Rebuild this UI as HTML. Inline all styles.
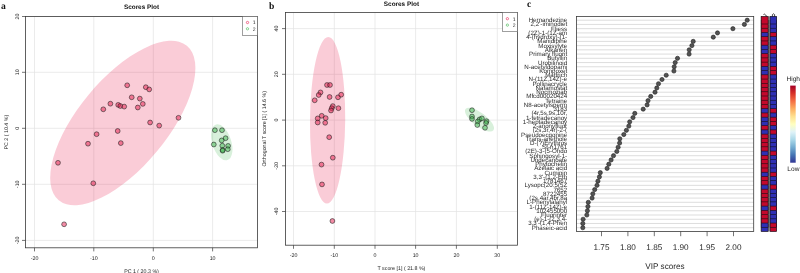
<!DOCTYPE html>
<html><head><meta charset="utf-8"><title>Figure</title>
<style>
html,body{margin:0;padding:0;background:#fff;width:800px;height:273px;overflow:hidden}
svg{display:block;transform:translateZ(0);will-change:transform}
text{font-family:"Liberation Sans",sans-serif;text-rendering:geometricPrecision}
text.serif{font-family:"Liberation Serif",serif}
</style></head><body>
<svg width="800" height="273" viewBox="0 0 800 273">
<rect width="800" height="273" fill="#fff"/>
<line x1="34.5" y1="16.5" x2="34.5" y2="247.8" stroke="#e3e3e3" stroke-width="0.7"/>
<line x1="93.8" y1="16.5" x2="93.8" y2="247.8" stroke="#e3e3e3" stroke-width="0.7"/>
<line x1="153.3" y1="16.5" x2="153.3" y2="247.8" stroke="#e3e3e3" stroke-width="0.7"/>
<line x1="212.6" y1="16.5" x2="212.6" y2="247.8" stroke="#e3e3e3" stroke-width="0.7"/>
<line x1="25.5" y1="16.5" x2="257.5" y2="16.5" stroke="#e3e3e3" stroke-width="0.7"/>
<line x1="25.5" y1="72.3" x2="257.5" y2="72.3" stroke="#e3e3e3" stroke-width="0.7"/>
<line x1="25.5" y1="128.3" x2="257.5" y2="128.3" stroke="#e3e3e3" stroke-width="0.7"/>
<line x1="25.5" y1="184.3" x2="257.5" y2="184.3" stroke="#e3e3e3" stroke-width="0.7"/>
<line x1="25.5" y1="240.4" x2="257.5" y2="240.4" stroke="#e3e3e3" stroke-width="0.7"/>
<ellipse cx="122.8" cy="123" rx="100.3" ry="44.4" transform="rotate(-50.29 122.8 123)" fill="#e6194B" fill-opacity="0.22"/>
<ellipse cx="221.75" cy="142.3" rx="18.7" ry="9.5" transform="rotate(72.1 221.75 142.3)" fill="#3cb44b" fill-opacity="0.2"/>
<circle cx="127.2" cy="85.3" r="2.4" fill="#e6194B" fill-opacity="0.5" stroke="#1a1a1a" stroke-opacity="0.85" stroke-width="0.65"/>
<circle cx="145.8" cy="87.2" r="2.4" fill="#e6194B" fill-opacity="0.5" stroke="#1a1a1a" stroke-opacity="0.85" stroke-width="0.65"/>
<circle cx="149.2" cy="89.4" r="2.4" fill="#e6194B" fill-opacity="0.5" stroke="#1a1a1a" stroke-opacity="0.85" stroke-width="0.65"/>
<circle cx="131.7" cy="97.3" r="2.4" fill="#e6194B" fill-opacity="0.5" stroke="#1a1a1a" stroke-opacity="0.85" stroke-width="0.65"/>
<circle cx="139.8" cy="98.6" r="2.4" fill="#e6194B" fill-opacity="0.5" stroke="#1a1a1a" stroke-opacity="0.85" stroke-width="0.65"/>
<circle cx="142.8" cy="103.9" r="2.4" fill="#e6194B" fill-opacity="0.5" stroke="#1a1a1a" stroke-opacity="0.85" stroke-width="0.65"/>
<circle cx="110.4" cy="103.7" r="2.4" fill="#e6194B" fill-opacity="0.5" stroke="#1a1a1a" stroke-opacity="0.85" stroke-width="0.65"/>
<circle cx="118.2" cy="104.9" r="2.4" fill="#e6194B" fill-opacity="0.5" stroke="#1a1a1a" stroke-opacity="0.85" stroke-width="0.65"/>
<circle cx="120.3" cy="106" r="2.4" fill="#e6194B" fill-opacity="0.5" stroke="#1a1a1a" stroke-opacity="0.85" stroke-width="0.65"/>
<circle cx="124.2" cy="106.6" r="2.4" fill="#e6194B" fill-opacity="0.5" stroke="#1a1a1a" stroke-opacity="0.85" stroke-width="0.65"/>
<circle cx="137.8" cy="107.5" r="2.4" fill="#e6194B" fill-opacity="0.5" stroke="#1a1a1a" stroke-opacity="0.85" stroke-width="0.65"/>
<circle cx="103.3" cy="109.3" r="2.4" fill="#e6194B" fill-opacity="0.5" stroke="#1a1a1a" stroke-opacity="0.85" stroke-width="0.65"/>
<circle cx="178.5" cy="117.8" r="2.4" fill="#e6194B" fill-opacity="0.5" stroke="#1a1a1a" stroke-opacity="0.85" stroke-width="0.65"/>
<circle cx="150.1" cy="122.5" r="2.4" fill="#e6194B" fill-opacity="0.5" stroke="#1a1a1a" stroke-opacity="0.85" stroke-width="0.65"/>
<circle cx="159.2" cy="125.6" r="2.4" fill="#e6194B" fill-opacity="0.5" stroke="#1a1a1a" stroke-opacity="0.85" stroke-width="0.65"/>
<circle cx="117.7" cy="131" r="2.4" fill="#e6194B" fill-opacity="0.5" stroke="#1a1a1a" stroke-opacity="0.85" stroke-width="0.65"/>
<circle cx="96.6" cy="134.2" r="2.4" fill="#e6194B" fill-opacity="0.5" stroke="#1a1a1a" stroke-opacity="0.85" stroke-width="0.65"/>
<circle cx="120.8" cy="143.1" r="2.4" fill="#e6194B" fill-opacity="0.5" stroke="#1a1a1a" stroke-opacity="0.85" stroke-width="0.65"/>
<circle cx="88" cy="143.7" r="2.4" fill="#e6194B" fill-opacity="0.5" stroke="#1a1a1a" stroke-opacity="0.85" stroke-width="0.65"/>
<circle cx="58" cy="162.8" r="2.4" fill="#e6194B" fill-opacity="0.5" stroke="#1a1a1a" stroke-opacity="0.85" stroke-width="0.65"/>
<circle cx="93.3" cy="183.3" r="2.4" fill="#e6194B" fill-opacity="0.5" stroke="#1a1a1a" stroke-opacity="0.85" stroke-width="0.65"/>
<circle cx="64.1" cy="224.3" r="2.4" fill="#e6194B" fill-opacity="0.5" stroke="#1a1a1a" stroke-opacity="0.85" stroke-width="0.65"/>
<circle cx="214.9" cy="130.2" r="2.4" fill="#3cb44b" fill-opacity="0.5" stroke="#1a1a1a" stroke-opacity="0.85" stroke-width="0.65"/>
<circle cx="222" cy="130.2" r="2.4" fill="#3cb44b" fill-opacity="0.5" stroke="#1a1a1a" stroke-opacity="0.85" stroke-width="0.65"/>
<circle cx="225.6" cy="138.2" r="2.4" fill="#3cb44b" fill-opacity="0.5" stroke="#1a1a1a" stroke-opacity="0.85" stroke-width="0.65"/>
<circle cx="221.7" cy="140.4" r="2.4" fill="#3cb44b" fill-opacity="0.5" stroke="#1a1a1a" stroke-opacity="0.85" stroke-width="0.65"/>
<circle cx="213.8" cy="144.5" r="2.4" fill="#3cb44b" fill-opacity="0.5" stroke="#1a1a1a" stroke-opacity="0.85" stroke-width="0.65"/>
<circle cx="222.3" cy="145.7" r="2.4" fill="#3cb44b" fill-opacity="0.5" stroke="#1a1a1a" stroke-opacity="0.85" stroke-width="0.65"/>
<circle cx="228.1" cy="145.9" r="2.4" fill="#3cb44b" fill-opacity="0.5" stroke="#1a1a1a" stroke-opacity="0.85" stroke-width="0.65"/>
<circle cx="227.8" cy="149.2" r="2.4" fill="#3cb44b" fill-opacity="0.5" stroke="#1a1a1a" stroke-opacity="0.85" stroke-width="0.65"/>
<circle cx="222.7" cy="150" r="2.4" fill="#3cb44b" fill-opacity="0.5" stroke="#1a1a1a" stroke-opacity="0.85" stroke-width="0.65"/>
<circle cx="222.6" cy="150.7" r="2.4" fill="#3cb44b" fill-opacity="0.5" stroke="#1a1a1a" stroke-opacity="0.85" stroke-width="0.65"/>
<rect x="25.5" y="16.5" width="232" height="231.3" fill="none" stroke="#3a3a3a" stroke-width="0.8"/>
<line x1="34.5" y1="247.8" x2="34.5" y2="251.4" stroke="#3a3a3a" stroke-width="0.7"/>
<text x="34.5" y="260.4" font-size="5.3" text-anchor="middle" fill="#222">-20</text>
<line x1="93.8" y1="247.8" x2="93.8" y2="251.4" stroke="#3a3a3a" stroke-width="0.7"/>
<text x="93.8" y="260.4" font-size="5.3" text-anchor="middle" fill="#222">-10</text>
<line x1="153.3" y1="247.8" x2="153.3" y2="251.4" stroke="#3a3a3a" stroke-width="0.7"/>
<text x="153.3" y="260.4" font-size="5.3" text-anchor="middle" fill="#222">0</text>
<line x1="212.6" y1="247.8" x2="212.6" y2="251.4" stroke="#3a3a3a" stroke-width="0.7"/>
<text x="212.6" y="260.4" font-size="5.3" text-anchor="middle" fill="#222">10</text>
<line x1="22" y1="16.5" x2="25.5" y2="16.5" stroke="#3a3a3a" stroke-width="0.7"/>
<text transform="translate(18.6 16.5) rotate(-90)" font-size="5.3" text-anchor="middle" fill="#222">20</text>
<line x1="22" y1="72.3" x2="25.5" y2="72.3" stroke="#3a3a3a" stroke-width="0.7"/>
<text transform="translate(18.6 72.3) rotate(-90)" font-size="5.3" text-anchor="middle" fill="#222">10</text>
<line x1="22" y1="128.3" x2="25.5" y2="128.3" stroke="#3a3a3a" stroke-width="0.7"/>
<text transform="translate(18.6 128.3) rotate(-90)" font-size="5.3" text-anchor="middle" fill="#222">0</text>
<line x1="22" y1="184.3" x2="25.5" y2="184.3" stroke="#3a3a3a" stroke-width="0.7"/>
<text transform="translate(18.6 184.3) rotate(-90)" font-size="5.3" text-anchor="middle" fill="#222">-10</text>
<line x1="22" y1="240.4" x2="25.5" y2="240.4" stroke="#3a3a3a" stroke-width="0.7"/>
<text transform="translate(18.6 240.4) rotate(-90)" font-size="5.3" text-anchor="middle" fill="#222">-20</text>
<rect x="242.5" y="16.5" width="15" height="18.8" fill="#fff" stroke="#606060" stroke-width="0.6"/>
<circle cx="247.5" cy="22.5" r="1.15" fill="none" stroke="#e6194B" stroke-width="0.6"/>
<circle cx="247.5" cy="28.8" r="1.15" fill="none" stroke="#3cb44b" stroke-width="0.6"/>
<text x="252.8" y="24.4" font-size="5.1" fill="#222">1</text>
<text x="252.8" y="30.7" font-size="5.1" fill="#222">2</text>
<text x="141.5" y="8.9" font-size="6.4" font-weight="bold" text-anchor="middle" fill="#111">Scores Plot</text>
<text x="141.5" y="272.9" font-size="5.3" text-anchor="middle" fill="#222">PC 1 ( 20.3 %)</text>
<text transform="translate(8.1 132.15) rotate(-90)" font-size="5.3" text-anchor="middle" fill="#222">PC 2 ( 10.4 %)</text>
<text x="1" y="9" class="serif" font-size="9.6" font-weight="bold" fill="#111">a</text>
<line x1="293.5" y1="12.4" x2="293.5" y2="245.2" stroke="#e3e3e3" stroke-width="0.7"/>
<line x1="334.3" y1="12.4" x2="334.3" y2="245.2" stroke="#e3e3e3" stroke-width="0.7"/>
<line x1="375" y1="12.4" x2="375" y2="245.2" stroke="#e3e3e3" stroke-width="0.7"/>
<line x1="415.6" y1="12.4" x2="415.6" y2="245.2" stroke="#e3e3e3" stroke-width="0.7"/>
<line x1="456.4" y1="12.4" x2="456.4" y2="245.2" stroke="#e3e3e3" stroke-width="0.7"/>
<line x1="497.3" y1="12.4" x2="497.3" y2="245.2" stroke="#e3e3e3" stroke-width="0.7"/>
<line x1="285.5" y1="28.6" x2="517.4" y2="28.6" stroke="#e3e3e3" stroke-width="0.7"/>
<line x1="285.5" y1="74.3" x2="517.4" y2="74.3" stroke="#e3e3e3" stroke-width="0.7"/>
<line x1="285.5" y1="120.1" x2="517.4" y2="120.1" stroke="#e3e3e3" stroke-width="0.7"/>
<line x1="285.5" y1="165.8" x2="517.4" y2="165.8" stroke="#e3e3e3" stroke-width="0.7"/>
<line x1="285.5" y1="211.5" x2="517.4" y2="211.5" stroke="#e3e3e3" stroke-width="0.7"/>
<ellipse cx="327.6" cy="120.3" rx="17.6" ry="83.3" transform="rotate(0.5 327.6 120.3)" fill="#e6194B" fill-opacity="0.22"/>
<ellipse cx="479.5" cy="119.6" rx="17.5" ry="6.8" transform="rotate(37.3 479.5 119.6)" fill="#3cb44b" fill-opacity="0.2"/>
<circle cx="327" cy="85" r="2.4" fill="#e6194B" fill-opacity="0.5" stroke="#1a1a1a" stroke-opacity="0.85" stroke-width="0.65"/>
<circle cx="330" cy="85" r="2.4" fill="#e6194B" fill-opacity="0.5" stroke="#1a1a1a" stroke-opacity="0.85" stroke-width="0.65"/>
<circle cx="320.5" cy="92.4" r="2.4" fill="#e6194B" fill-opacity="0.5" stroke="#1a1a1a" stroke-opacity="0.85" stroke-width="0.65"/>
<circle cx="318.7" cy="95" r="2.4" fill="#e6194B" fill-opacity="0.5" stroke="#1a1a1a" stroke-opacity="0.85" stroke-width="0.65"/>
<circle cx="314.7" cy="100.3" r="2.4" fill="#e6194B" fill-opacity="0.5" stroke="#1a1a1a" stroke-opacity="0.85" stroke-width="0.65"/>
<circle cx="329.6" cy="97" r="2.4" fill="#e6194B" fill-opacity="0.5" stroke="#1a1a1a" stroke-opacity="0.85" stroke-width="0.65"/>
<circle cx="338" cy="97.3" r="2.4" fill="#e6194B" fill-opacity="0.5" stroke="#1a1a1a" stroke-opacity="0.85" stroke-width="0.65"/>
<circle cx="341.2" cy="94.7" r="2.4" fill="#e6194B" fill-opacity="0.5" stroke="#1a1a1a" stroke-opacity="0.85" stroke-width="0.65"/>
<circle cx="332.8" cy="106.1" r="2.4" fill="#e6194B" fill-opacity="0.5" stroke="#1a1a1a" stroke-opacity="0.85" stroke-width="0.65"/>
<circle cx="331.7" cy="108.2" r="2.4" fill="#e6194B" fill-opacity="0.5" stroke="#1a1a1a" stroke-opacity="0.85" stroke-width="0.65"/>
<circle cx="331" cy="110.5" r="2.4" fill="#e6194B" fill-opacity="0.5" stroke="#1a1a1a" stroke-opacity="0.85" stroke-width="0.65"/>
<circle cx="338.4" cy="108.2" r="2.4" fill="#e6194B" fill-opacity="0.5" stroke="#1a1a1a" stroke-opacity="0.85" stroke-width="0.65"/>
<circle cx="321.7" cy="115.8" r="2.4" fill="#e6194B" fill-opacity="0.5" stroke="#1a1a1a" stroke-opacity="0.85" stroke-width="0.65"/>
<circle cx="317.7" cy="118.4" r="2.4" fill="#e6194B" fill-opacity="0.5" stroke="#1a1a1a" stroke-opacity="0.85" stroke-width="0.65"/>
<circle cx="325.7" cy="118.1" r="2.4" fill="#e6194B" fill-opacity="0.5" stroke="#1a1a1a" stroke-opacity="0.85" stroke-width="0.65"/>
<circle cx="317.7" cy="122.5" r="2.4" fill="#e6194B" fill-opacity="0.5" stroke="#1a1a1a" stroke-opacity="0.85" stroke-width="0.65"/>
<circle cx="325.2" cy="122.8" r="2.4" fill="#e6194B" fill-opacity="0.5" stroke="#1a1a1a" stroke-opacity="0.85" stroke-width="0.65"/>
<circle cx="329.2" cy="137.2" r="2.4" fill="#e6194B" fill-opacity="0.5" stroke="#1a1a1a" stroke-opacity="0.85" stroke-width="0.65"/>
<circle cx="332.8" cy="157.7" r="2.4" fill="#e6194B" fill-opacity="0.5" stroke="#1a1a1a" stroke-opacity="0.85" stroke-width="0.65"/>
<circle cx="321.5" cy="164.6" r="2.4" fill="#e6194B" fill-opacity="0.5" stroke="#1a1a1a" stroke-opacity="0.85" stroke-width="0.65"/>
<circle cx="322" cy="184.4" r="2.4" fill="#e6194B" fill-opacity="0.5" stroke="#1a1a1a" stroke-opacity="0.85" stroke-width="0.65"/>
<circle cx="332.4" cy="221" r="2.4" fill="#e6194B" fill-opacity="0.5" stroke="#1a1a1a" stroke-opacity="0.85" stroke-width="0.65"/>
<circle cx="472" cy="110.2" r="2.4" fill="#3cb44b" fill-opacity="0.5" stroke="#1a1a1a" stroke-opacity="0.85" stroke-width="0.65"/>
<circle cx="472" cy="116.5" r="2.4" fill="#3cb44b" fill-opacity="0.5" stroke="#1a1a1a" stroke-opacity="0.85" stroke-width="0.65"/>
<circle cx="472" cy="118.9" r="2.4" fill="#3cb44b" fill-opacity="0.5" stroke="#1a1a1a" stroke-opacity="0.85" stroke-width="0.65"/>
<circle cx="479.6" cy="119.4" r="2.4" fill="#3cb44b" fill-opacity="0.5" stroke="#1a1a1a" stroke-opacity="0.85" stroke-width="0.65"/>
<circle cx="481.9" cy="118.4" r="2.4" fill="#3cb44b" fill-opacity="0.5" stroke="#1a1a1a" stroke-opacity="0.85" stroke-width="0.65"/>
<circle cx="477.8" cy="121.4" r="2.4" fill="#3cb44b" fill-opacity="0.5" stroke="#1a1a1a" stroke-opacity="0.85" stroke-width="0.65"/>
<circle cx="486.5" cy="121.2" r="2.4" fill="#3cb44b" fill-opacity="0.5" stroke="#1a1a1a" stroke-opacity="0.85" stroke-width="0.65"/>
<circle cx="486" cy="123" r="2.4" fill="#3cb44b" fill-opacity="0.5" stroke="#1a1a1a" stroke-opacity="0.85" stroke-width="0.65"/>
<circle cx="477.3" cy="125" r="2.4" fill="#3cb44b" fill-opacity="0.5" stroke="#1a1a1a" stroke-opacity="0.85" stroke-width="0.65"/>
<circle cx="485" cy="127.8" r="2.4" fill="#3cb44b" fill-opacity="0.5" stroke="#1a1a1a" stroke-opacity="0.85" stroke-width="0.65"/>
<rect x="285.5" y="12.4" width="231.9" height="232.8" fill="none" stroke="#3a3a3a" stroke-width="0.8"/>
<line x1="293.5" y1="245.2" x2="293.5" y2="248.8" stroke="#3a3a3a" stroke-width="0.7"/>
<text x="293.5" y="257" font-size="5.3" text-anchor="middle" fill="#222">-20</text>
<line x1="334.3" y1="245.2" x2="334.3" y2="248.8" stroke="#3a3a3a" stroke-width="0.7"/>
<text x="334.3" y="257" font-size="5.3" text-anchor="middle" fill="#222">-10</text>
<line x1="375" y1="245.2" x2="375" y2="248.8" stroke="#3a3a3a" stroke-width="0.7"/>
<text x="375" y="257" font-size="5.3" text-anchor="middle" fill="#222">0</text>
<line x1="415.6" y1="245.2" x2="415.6" y2="248.8" stroke="#3a3a3a" stroke-width="0.7"/>
<text x="415.6" y="257" font-size="5.3" text-anchor="middle" fill="#222">10</text>
<line x1="456.4" y1="245.2" x2="456.4" y2="248.8" stroke="#3a3a3a" stroke-width="0.7"/>
<text x="456.4" y="257" font-size="5.3" text-anchor="middle" fill="#222">20</text>
<line x1="497.3" y1="245.2" x2="497.3" y2="248.8" stroke="#3a3a3a" stroke-width="0.7"/>
<text x="497.3" y="257" font-size="5.3" text-anchor="middle" fill="#222">30</text>
<line x1="282" y1="28.6" x2="285.5" y2="28.6" stroke="#3a3a3a" stroke-width="0.7"/>
<text transform="translate(277.8 28.6) rotate(-90)" font-size="5.3" text-anchor="middle" fill="#222">40</text>
<line x1="282" y1="74.3" x2="285.5" y2="74.3" stroke="#3a3a3a" stroke-width="0.7"/>
<text transform="translate(277.8 74.3) rotate(-90)" font-size="5.3" text-anchor="middle" fill="#222">20</text>
<line x1="282" y1="120.1" x2="285.5" y2="120.1" stroke="#3a3a3a" stroke-width="0.7"/>
<text transform="translate(277.8 120.1) rotate(-90)" font-size="5.3" text-anchor="middle" fill="#222">0</text>
<line x1="282" y1="165.8" x2="285.5" y2="165.8" stroke="#3a3a3a" stroke-width="0.7"/>
<text transform="translate(277.8 165.8) rotate(-90)" font-size="5.3" text-anchor="middle" fill="#222">-20</text>
<line x1="282" y1="211.5" x2="285.5" y2="211.5" stroke="#3a3a3a" stroke-width="0.7"/>
<text transform="translate(277.8 211.5) rotate(-90)" font-size="5.3" text-anchor="middle" fill="#222">-40</text>
<rect x="502.4" y="12.4" width="15" height="19.2" fill="#fff" stroke="#606060" stroke-width="0.6"/>
<circle cx="507.4" cy="18.7" r="1.15" fill="none" stroke="#e6194B" stroke-width="0.6"/>
<circle cx="507.4" cy="25.1" r="1.15" fill="none" stroke="#3cb44b" stroke-width="0.6"/>
<text x="512.7" y="20.6" font-size="5.1" fill="#222">1</text>
<text x="512.7" y="27" font-size="5.1" fill="#222">2</text>
<text x="401.45" y="5.8" font-size="6.4" font-weight="bold" text-anchor="middle" fill="#111">Scores Plot</text>
<text x="401.45" y="270.3" font-size="5.3" text-anchor="middle" fill="#222">T score [1] ( 21.8 %)</text>
<text transform="translate(266.3 128.8) rotate(-90)" font-size="5.3" text-anchor="middle" fill="#222">Orthogonal T score [1] ( 14.6 %)</text>
<text x="268.9" y="9.2" class="serif" font-size="9.6" font-weight="bold" fill="#111">b</text>
<line x1="576.4" y1="20.2" x2="753.7" y2="20.2" stroke="#cfcfcf" stroke-width="0.7"/>
<line x1="576.4" y1="24.43" x2="753.7" y2="24.43" stroke="#cfcfcf" stroke-width="0.7"/>
<line x1="576.4" y1="28.67" x2="753.7" y2="28.67" stroke="#cfcfcf" stroke-width="0.7"/>
<line x1="576.4" y1="32.91" x2="753.7" y2="32.91" stroke="#cfcfcf" stroke-width="0.7"/>
<line x1="576.4" y1="37.14" x2="753.7" y2="37.14" stroke="#cfcfcf" stroke-width="0.7"/>
<line x1="576.4" y1="41.38" x2="753.7" y2="41.38" stroke="#cfcfcf" stroke-width="0.7"/>
<line x1="576.4" y1="45.61" x2="753.7" y2="45.61" stroke="#cfcfcf" stroke-width="0.7"/>
<line x1="576.4" y1="49.84" x2="753.7" y2="49.84" stroke="#cfcfcf" stroke-width="0.7"/>
<line x1="576.4" y1="54.08" x2="753.7" y2="54.08" stroke="#cfcfcf" stroke-width="0.7"/>
<line x1="576.4" y1="58.31" x2="753.7" y2="58.31" stroke="#cfcfcf" stroke-width="0.7"/>
<line x1="576.4" y1="62.55" x2="753.7" y2="62.55" stroke="#cfcfcf" stroke-width="0.7"/>
<line x1="576.4" y1="66.78" x2="753.7" y2="66.78" stroke="#cfcfcf" stroke-width="0.7"/>
<line x1="576.4" y1="71.02" x2="753.7" y2="71.02" stroke="#cfcfcf" stroke-width="0.7"/>
<line x1="576.4" y1="75.26" x2="753.7" y2="75.26" stroke="#cfcfcf" stroke-width="0.7"/>
<line x1="576.4" y1="79.49" x2="753.7" y2="79.49" stroke="#cfcfcf" stroke-width="0.7"/>
<line x1="576.4" y1="83.73" x2="753.7" y2="83.73" stroke="#cfcfcf" stroke-width="0.7"/>
<line x1="576.4" y1="87.96" x2="753.7" y2="87.96" stroke="#cfcfcf" stroke-width="0.7"/>
<line x1="576.4" y1="92.2" x2="753.7" y2="92.2" stroke="#cfcfcf" stroke-width="0.7"/>
<line x1="576.4" y1="96.43" x2="753.7" y2="96.43" stroke="#cfcfcf" stroke-width="0.7"/>
<line x1="576.4" y1="100.67" x2="753.7" y2="100.67" stroke="#cfcfcf" stroke-width="0.7"/>
<line x1="576.4" y1="104.9" x2="753.7" y2="104.9" stroke="#cfcfcf" stroke-width="0.7"/>
<line x1="576.4" y1="109.14" x2="753.7" y2="109.14" stroke="#cfcfcf" stroke-width="0.7"/>
<line x1="576.4" y1="113.37" x2="753.7" y2="113.37" stroke="#cfcfcf" stroke-width="0.7"/>
<line x1="576.4" y1="117.61" x2="753.7" y2="117.61" stroke="#cfcfcf" stroke-width="0.7"/>
<line x1="576.4" y1="121.84" x2="753.7" y2="121.84" stroke="#cfcfcf" stroke-width="0.7"/>
<line x1="576.4" y1="126.08" x2="753.7" y2="126.08" stroke="#cfcfcf" stroke-width="0.7"/>
<line x1="576.4" y1="130.31" x2="753.7" y2="130.31" stroke="#cfcfcf" stroke-width="0.7"/>
<line x1="576.4" y1="134.55" x2="753.7" y2="134.55" stroke="#cfcfcf" stroke-width="0.7"/>
<line x1="576.4" y1="138.78" x2="753.7" y2="138.78" stroke="#cfcfcf" stroke-width="0.7"/>
<line x1="576.4" y1="143.02" x2="753.7" y2="143.02" stroke="#cfcfcf" stroke-width="0.7"/>
<line x1="576.4" y1="147.25" x2="753.7" y2="147.25" stroke="#cfcfcf" stroke-width="0.7"/>
<line x1="576.4" y1="151.48" x2="753.7" y2="151.48" stroke="#cfcfcf" stroke-width="0.7"/>
<line x1="576.4" y1="155.72" x2="753.7" y2="155.72" stroke="#cfcfcf" stroke-width="0.7"/>
<line x1="576.4" y1="159.96" x2="753.7" y2="159.96" stroke="#cfcfcf" stroke-width="0.7"/>
<line x1="576.4" y1="164.19" x2="753.7" y2="164.19" stroke="#cfcfcf" stroke-width="0.7"/>
<line x1="576.4" y1="168.43" x2="753.7" y2="168.43" stroke="#cfcfcf" stroke-width="0.7"/>
<line x1="576.4" y1="172.66" x2="753.7" y2="172.66" stroke="#cfcfcf" stroke-width="0.7"/>
<line x1="576.4" y1="176.9" x2="753.7" y2="176.9" stroke="#cfcfcf" stroke-width="0.7"/>
<line x1="576.4" y1="181.13" x2="753.7" y2="181.13" stroke="#cfcfcf" stroke-width="0.7"/>
<line x1="576.4" y1="185.37" x2="753.7" y2="185.37" stroke="#cfcfcf" stroke-width="0.7"/>
<line x1="576.4" y1="189.6" x2="753.7" y2="189.6" stroke="#cfcfcf" stroke-width="0.7"/>
<line x1="576.4" y1="193.84" x2="753.7" y2="193.84" stroke="#cfcfcf" stroke-width="0.7"/>
<line x1="576.4" y1="198.07" x2="753.7" y2="198.07" stroke="#cfcfcf" stroke-width="0.7"/>
<line x1="576.4" y1="202.31" x2="753.7" y2="202.31" stroke="#cfcfcf" stroke-width="0.7"/>
<line x1="576.4" y1="206.54" x2="753.7" y2="206.54" stroke="#cfcfcf" stroke-width="0.7"/>
<line x1="576.4" y1="210.78" x2="753.7" y2="210.78" stroke="#cfcfcf" stroke-width="0.7"/>
<line x1="576.4" y1="215.01" x2="753.7" y2="215.01" stroke="#cfcfcf" stroke-width="0.7"/>
<line x1="576.4" y1="219.25" x2="753.7" y2="219.25" stroke="#cfcfcf" stroke-width="0.7"/>
<line x1="576.4" y1="223.48" x2="753.7" y2="223.48" stroke="#cfcfcf" stroke-width="0.7"/>
<line x1="576.4" y1="227.72" x2="753.7" y2="227.72" stroke="#cfcfcf" stroke-width="0.7"/>
<circle cx="747.2" cy="20.2" r="2.1" fill="#535353" stroke="#1e1e1e" stroke-width="0.6"/>
<circle cx="744.4" cy="24.43" r="2.1" fill="#535353" stroke="#1e1e1e" stroke-width="0.6"/>
<circle cx="732.9" cy="28.67" r="2.1" fill="#535353" stroke="#1e1e1e" stroke-width="0.6"/>
<circle cx="717.5" cy="32.91" r="2.1" fill="#535353" stroke="#1e1e1e" stroke-width="0.6"/>
<circle cx="713.3" cy="37.14" r="2.1" fill="#535353" stroke="#1e1e1e" stroke-width="0.6"/>
<circle cx="693.2" cy="41.38" r="2.1" fill="#535353" stroke="#1e1e1e" stroke-width="0.6"/>
<circle cx="691.9" cy="45.61" r="2.1" fill="#535353" stroke="#1e1e1e" stroke-width="0.6"/>
<circle cx="689.2" cy="49.84" r="2.1" fill="#535353" stroke="#1e1e1e" stroke-width="0.6"/>
<circle cx="689.1" cy="54.08" r="2.1" fill="#535353" stroke="#1e1e1e" stroke-width="0.6"/>
<circle cx="677.5" cy="58.31" r="2.1" fill="#535353" stroke="#1e1e1e" stroke-width="0.6"/>
<circle cx="675.2" cy="62.55" r="2.1" fill="#535353" stroke="#1e1e1e" stroke-width="0.6"/>
<circle cx="674.2" cy="66.78" r="2.1" fill="#535353" stroke="#1e1e1e" stroke-width="0.6"/>
<circle cx="673.9" cy="71.02" r="2.1" fill="#535353" stroke="#1e1e1e" stroke-width="0.6"/>
<circle cx="666.2" cy="75.26" r="2.1" fill="#535353" stroke="#1e1e1e" stroke-width="0.6"/>
<circle cx="662" cy="79.49" r="2.1" fill="#535353" stroke="#1e1e1e" stroke-width="0.6"/>
<circle cx="658.5" cy="83.73" r="2.1" fill="#535353" stroke="#1e1e1e" stroke-width="0.6"/>
<circle cx="656.8" cy="87.96" r="2.1" fill="#535353" stroke="#1e1e1e" stroke-width="0.6"/>
<circle cx="655" cy="92.2" r="2.1" fill="#535353" stroke="#1e1e1e" stroke-width="0.6"/>
<circle cx="650.7" cy="96.43" r="2.1" fill="#535353" stroke="#1e1e1e" stroke-width="0.6"/>
<circle cx="648" cy="100.67" r="2.1" fill="#535353" stroke="#1e1e1e" stroke-width="0.6"/>
<circle cx="647.1" cy="104.9" r="2.1" fill="#535353" stroke="#1e1e1e" stroke-width="0.6"/>
<circle cx="643.2" cy="109.14" r="2.1" fill="#535353" stroke="#1e1e1e" stroke-width="0.6"/>
<circle cx="634.8" cy="113.37" r="2.1" fill="#535353" stroke="#1e1e1e" stroke-width="0.6"/>
<circle cx="633" cy="117.61" r="2.1" fill="#535353" stroke="#1e1e1e" stroke-width="0.6"/>
<circle cx="629.7" cy="121.84" r="2.1" fill="#535353" stroke="#1e1e1e" stroke-width="0.6"/>
<circle cx="628.8" cy="126.08" r="2.1" fill="#535353" stroke="#1e1e1e" stroke-width="0.6"/>
<circle cx="626.4" cy="130.31" r="2.1" fill="#535353" stroke="#1e1e1e" stroke-width="0.6"/>
<circle cx="623.8" cy="134.55" r="2.1" fill="#535353" stroke="#1e1e1e" stroke-width="0.6"/>
<circle cx="619.8" cy="138.78" r="2.1" fill="#535353" stroke="#1e1e1e" stroke-width="0.6"/>
<circle cx="619.6" cy="143.02" r="2.1" fill="#535353" stroke="#1e1e1e" stroke-width="0.6"/>
<circle cx="618.1" cy="147.25" r="2.1" fill="#535353" stroke="#1e1e1e" stroke-width="0.6"/>
<circle cx="616.8" cy="151.48" r="2.1" fill="#535353" stroke="#1e1e1e" stroke-width="0.6"/>
<circle cx="613.5" cy="155.72" r="2.1" fill="#535353" stroke="#1e1e1e" stroke-width="0.6"/>
<circle cx="611.1" cy="159.96" r="2.1" fill="#535353" stroke="#1e1e1e" stroke-width="0.6"/>
<circle cx="608.8" cy="164.19" r="2.1" fill="#535353" stroke="#1e1e1e" stroke-width="0.6"/>
<circle cx="607.1" cy="168.43" r="2.1" fill="#535353" stroke="#1e1e1e" stroke-width="0.6"/>
<circle cx="600.3" cy="172.66" r="2.1" fill="#535353" stroke="#1e1e1e" stroke-width="0.6"/>
<circle cx="599.4" cy="176.9" r="2.1" fill="#535353" stroke="#1e1e1e" stroke-width="0.6"/>
<circle cx="597.9" cy="181.13" r="2.1" fill="#535353" stroke="#1e1e1e" stroke-width="0.6"/>
<circle cx="597" cy="185.37" r="2.1" fill="#535353" stroke="#1e1e1e" stroke-width="0.6"/>
<circle cx="594.7" cy="189.6" r="2.1" fill="#535353" stroke="#1e1e1e" stroke-width="0.6"/>
<circle cx="592.8" cy="193.84" r="2.1" fill="#535353" stroke="#1e1e1e" stroke-width="0.6"/>
<circle cx="592.1" cy="198.07" r="2.1" fill="#535353" stroke="#1e1e1e" stroke-width="0.6"/>
<circle cx="588.3" cy="202.31" r="2.1" fill="#535353" stroke="#1e1e1e" stroke-width="0.6"/>
<circle cx="587.9" cy="206.54" r="2.1" fill="#535353" stroke="#1e1e1e" stroke-width="0.6"/>
<circle cx="587.4" cy="210.78" r="2.1" fill="#535353" stroke="#1e1e1e" stroke-width="0.6"/>
<circle cx="586.8" cy="215.01" r="2.1" fill="#535353" stroke="#1e1e1e" stroke-width="0.6"/>
<circle cx="583.1" cy="219.25" r="2.1" fill="#535353" stroke="#1e1e1e" stroke-width="0.6"/>
<circle cx="582.8" cy="223.48" r="2.1" fill="#535353" stroke="#1e1e1e" stroke-width="0.6"/>
<circle cx="582.8" cy="227.72" r="2.1" fill="#535353" stroke="#1e1e1e" stroke-width="0.6"/>
<rect x="576.4" y="16.4" width="177.3" height="215.1" fill="none" stroke="#3a3a3a" stroke-width="0.8"/>
<text x="567.2" y="22.2" font-size="6.2" text-anchor="end" fill="#2a2a2a">Hernandezine</text>
<text x="567.2" y="26.43" font-size="6.2" text-anchor="end" fill="#2a2a2a">2,2'-iminodiet</text>
<text x="567.2" y="30.67" font-size="6.2" text-anchor="end" fill="#2a2a2a">Fliess</text>
<text x="567.2" y="34.91" font-size="6.2" text-anchor="end" fill="#2a2a2a">(2Z)-1-(1Z-am</text>
<text x="567.2" y="39.14" font-size="6.2" text-anchor="end" fill="#2a2a2a">4-(hydroxy)-(1-</text>
<text x="567.2" y="43.38" font-size="6.2" text-anchor="end" fill="#2a2a2a">Manidipine</text>
<text x="567.2" y="47.61" font-size="6.2" text-anchor="end" fill="#2a2a2a">Moxisylyte</text>
<text x="567.2" y="51.84" font-size="6.2" text-anchor="end" fill="#2a2a2a">Alkanen</text>
<text x="567.2" y="56.08" font-size="6.2" text-anchor="end" fill="#2a2a2a">Primary fluorit</text>
<text x="567.2" y="60.31" font-size="6.2" text-anchor="end" fill="#2a2a2a">Butyllin</text>
<text x="567.2" y="64.55" font-size="6.2" text-anchor="end" fill="#2a2a2a">Urobilinoid</text>
<text x="567.2" y="68.78" font-size="6.2" text-anchor="end" fill="#2a2a2a">N-acetyldopami</text>
<text x="567.2" y="73.02" font-size="6.2" text-anchor="end" fill="#2a2a2a">Kompoxet</text>
<text x="567.2" y="77.26" font-size="6.2" text-anchor="end" fill="#2a2a2a">Mattrich</text>
<text x="567.2" y="81.49" font-size="6.2" text-anchor="end" fill="#2a2a2a">N-(11Z,14Z)-e</text>
<text x="567.2" y="85.73" font-size="6.2" text-anchor="end" fill="#2a2a2a">Pollinacrycle</text>
<text x="567.2" y="89.96" font-size="6.2" text-anchor="end" fill="#2a2a2a">Nafamostat</text>
<text x="567.2" y="94.2" font-size="6.2" text-anchor="end" fill="#2a2a2a">Nocmoziab</text>
<text x="567.2" y="98.43" font-size="6.2" text-anchor="end" fill="#2a2a2a">Mfcd00020424</text>
<text x="567.2" y="102.67" font-size="6.2" text-anchor="end" fill="#2a2a2a">Tetraine</text>
<text x="567.2" y="106.9" font-size="6.2" text-anchor="end" fill="#2a2a2a">N8-acetylsperm</text>
<text x="567.2" y="111.14" font-size="6.2" text-anchor="end" fill="#2a2a2a">3183</text>
<text x="567.2" y="115.37" font-size="6.2" text-anchor="end" fill="#2a2a2a">(4r,5s,9s,10r,</text>
<text x="567.2" y="119.61" font-size="6.2" text-anchor="end" fill="#2a2a2a">1-tetradecanoy</text>
<text x="567.2" y="123.84" font-size="6.2" text-anchor="end" fill="#2a2a2a">1-heptadecanoy</text>
<text x="567.2" y="128.08" font-size="6.2" text-anchor="end" fill="#2a2a2a">2-anonyfluor</text>
<text x="567.2" y="132.31" font-size="6.2" text-anchor="end" fill="#2a2a2a">(2s,3r,4r)-2-(</text>
<text x="567.2" y="136.55" font-size="6.2" text-anchor="end" fill="#2a2a2a">Pseudoecgonine</text>
<text x="567.2" y="140.78" font-size="6.2" text-anchor="end" fill="#2a2a2a">Trans-anethole</text>
<text x="567.2" y="145.02" font-size="6.2" text-anchor="end" fill="#2a2a2a">D-(?)Erythros</text>
<text x="567.2" y="149.25" font-size="6.2" text-anchor="end" fill="#2a2a2a">St-n1761</text>
<text x="567.2" y="153.48" font-size="6.2" text-anchor="end" fill="#2a2a2a">(2E)-3-(5-Ohdo</text>
<text x="567.2" y="157.72" font-size="6.2" text-anchor="end" fill="#2a2a2a">Sphingosyl-1-</text>
<text x="567.2" y="161.96" font-size="6.2" text-anchor="end" fill="#2a2a2a">Undecanoate</text>
<text x="567.2" y="166.19" font-size="6.2" text-anchor="end" fill="#2a2a2a">Phytochelin</text>
<text x="567.2" y="170.43" font-size="6.2" text-anchor="end" fill="#2a2a2a">Azelaic acid</text>
<text x="567.2" y="174.66" font-size="6.2" text-anchor="end" fill="#2a2a2a">Cuminin</text>
<text x="567.2" y="178.9" font-size="6.2" text-anchor="end" fill="#2a2a2a">3,3'-(1,2-Eth</text>
<text x="567.2" y="183.13" font-size="6.2" text-anchor="end" fill="#2a2a2a">1781467</text>
<text x="567.2" y="187.37" font-size="6.2" text-anchor="end" fill="#2a2a2a">Lysopc(20:5(5Z</text>
<text x="567.2" y="191.6" font-size="6.2" text-anchor="end" fill="#2a2a2a">7652</text>
<text x="567.2" y="195.84" font-size="6.2" text-anchor="end" fill="#2a2a2a">8722455</text>
<text x="567.2" y="200.07" font-size="6.2" text-anchor="end" fill="#2a2a2a">(2s,4ar,4br,8a</text>
<text x="567.2" y="204.31" font-size="6.2" text-anchor="end" fill="#2a2a2a">L-Phenylalanyl</text>
<text x="567.2" y="208.54" font-size="6.2" text-anchor="end" fill="#2a2a2a">1-(11Z-14Z)-e</text>
<text x="567.2" y="212.78" font-size="6.2" text-anchor="end" fill="#2a2a2a">102455000</text>
<text x="567.2" y="217.01" font-size="6.2" text-anchor="end" fill="#2a2a2a">Fluorinter</text>
<text x="567.2" y="221.25" font-size="6.2" text-anchor="end" fill="#2a2a2a">(e)-1-(2,3,4-</text>
<text x="567.2" y="225.48" font-size="6.2" text-anchor="end" fill="#2a2a2a">3,3'-(1,4-Phen</text>
<text x="567.2" y="229.72" font-size="6.2" text-anchor="end" fill="#2a2a2a">Phaseic-acid</text>
<line x1="601.5" y1="231.5" x2="601.5" y2="236.2" stroke="#3a3a3a" stroke-width="0.7"/>
<text x="601.5" y="250.2" font-size="8.2" text-anchor="middle" fill="#2a2a2a">1.75</text>
<line x1="627.9" y1="231.5" x2="627.9" y2="236.2" stroke="#3a3a3a" stroke-width="0.7"/>
<text x="627.9" y="250.2" font-size="8.2" text-anchor="middle" fill="#2a2a2a">1.80</text>
<line x1="654.3" y1="231.5" x2="654.3" y2="236.2" stroke="#3a3a3a" stroke-width="0.7"/>
<text x="654.3" y="250.2" font-size="8.2" text-anchor="middle" fill="#2a2a2a">1.85</text>
<line x1="680.7" y1="231.5" x2="680.7" y2="236.2" stroke="#3a3a3a" stroke-width="0.7"/>
<text x="680.7" y="250.2" font-size="8.2" text-anchor="middle" fill="#2a2a2a">1.90</text>
<line x1="707.1" y1="231.5" x2="707.1" y2="236.2" stroke="#3a3a3a" stroke-width="0.7"/>
<text x="707.1" y="250.2" font-size="8.2" text-anchor="middle" fill="#2a2a2a">1.95</text>
<line x1="733.5" y1="231.5" x2="733.5" y2="236.2" stroke="#3a3a3a" stroke-width="0.7"/>
<text x="733.5" y="250.2" font-size="8.2" text-anchor="middle" fill="#2a2a2a">2.00</text>
<text x="665" y="269.2" font-size="8.2" text-anchor="middle" fill="#2a2a2a">VIP scores</text>
<rect x="760.7" y="16.4" width="16.2" height="215.1" fill="#a0a0a0"/>
<rect x="761.2" y="223.91" width="6.9" height="7.6" fill="#2F2FB4" stroke="#1c1014" stroke-width="0.6"/>
<rect x="770.1" y="223.91" width="6.5" height="7.6" fill="#C4082C" stroke="#10101c" stroke-width="0.6"/>
<rect x="761.2" y="219.68" width="6.9" height="7.6" fill="#2F2FB4" stroke="#1c1014" stroke-width="0.6"/>
<rect x="770.1" y="219.68" width="6.5" height="7.6" fill="#C4082C" stroke="#10101c" stroke-width="0.6"/>
<rect x="761.2" y="215.44" width="6.9" height="7.6" fill="#C4082C" stroke="#1c1014" stroke-width="0.6"/>
<rect x="770.1" y="215.44" width="6.5" height="7.6" fill="#2F2FB4" stroke="#10101c" stroke-width="0.6"/>
<rect x="761.2" y="211.21" width="6.9" height="7.6" fill="#C4082C" stroke="#1c1014" stroke-width="0.6"/>
<rect x="770.1" y="211.21" width="6.5" height="7.6" fill="#2F2FB4" stroke="#10101c" stroke-width="0.6"/>
<rect x="761.2" y="206.97" width="6.9" height="7.6" fill="#C4082C" stroke="#1c1014" stroke-width="0.6"/>
<rect x="770.1" y="206.97" width="6.5" height="7.6" fill="#2F2FB4" stroke="#10101c" stroke-width="0.6"/>
<rect x="761.2" y="202.74" width="6.9" height="7.6" fill="#2F2FB4" stroke="#1c1014" stroke-width="0.6"/>
<rect x="770.1" y="202.74" width="6.5" height="7.6" fill="#C4082C" stroke="#10101c" stroke-width="0.6"/>
<rect x="761.2" y="198.5" width="6.9" height="7.6" fill="#C4082C" stroke="#1c1014" stroke-width="0.6"/>
<rect x="770.1" y="198.5" width="6.5" height="7.6" fill="#2F2FB4" stroke="#10101c" stroke-width="0.6"/>
<rect x="761.2" y="194.27" width="6.9" height="7.6" fill="#C4082C" stroke="#1c1014" stroke-width="0.6"/>
<rect x="770.1" y="194.27" width="6.5" height="7.6" fill="#2F2FB4" stroke="#10101c" stroke-width="0.6"/>
<rect x="761.2" y="190.03" width="6.9" height="7.6" fill="#C4082C" stroke="#1c1014" stroke-width="0.6"/>
<rect x="770.1" y="190.03" width="6.5" height="7.6" fill="#2F2FB4" stroke="#10101c" stroke-width="0.6"/>
<rect x="761.2" y="185.8" width="6.9" height="7.6" fill="#C4082C" stroke="#1c1014" stroke-width="0.6"/>
<rect x="770.1" y="185.8" width="6.5" height="7.6" fill="#2F2FB4" stroke="#10101c" stroke-width="0.6"/>
<rect x="761.2" y="181.56" width="6.9" height="7.6" fill="#2F2FB4" stroke="#1c1014" stroke-width="0.6"/>
<rect x="770.1" y="181.56" width="6.5" height="7.6" fill="#C4082C" stroke="#10101c" stroke-width="0.6"/>
<rect x="761.2" y="177.33" width="6.9" height="7.6" fill="#C4082C" stroke="#1c1014" stroke-width="0.6"/>
<rect x="770.1" y="177.33" width="6.5" height="7.6" fill="#2F2FB4" stroke="#10101c" stroke-width="0.6"/>
<rect x="761.2" y="173.09" width="6.9" height="7.6" fill="#C4082C" stroke="#1c1014" stroke-width="0.6"/>
<rect x="770.1" y="173.09" width="6.5" height="7.6" fill="#2F2FB4" stroke="#10101c" stroke-width="0.6"/>
<rect x="761.2" y="168.86" width="6.9" height="7.6" fill="#2F2FB4" stroke="#1c1014" stroke-width="0.6"/>
<rect x="770.1" y="168.86" width="6.5" height="7.6" fill="#C4082C" stroke="#10101c" stroke-width="0.6"/>
<rect x="761.2" y="164.62" width="6.9" height="7.6" fill="#C4082C" stroke="#1c1014" stroke-width="0.6"/>
<rect x="770.1" y="164.62" width="6.5" height="7.6" fill="#2F2FB4" stroke="#10101c" stroke-width="0.6"/>
<rect x="761.2" y="160.39" width="6.9" height="7.6" fill="#C4082C" stroke="#1c1014" stroke-width="0.6"/>
<rect x="770.1" y="160.39" width="6.5" height="7.6" fill="#2F2FB4" stroke="#10101c" stroke-width="0.6"/>
<rect x="761.2" y="156.16" width="6.9" height="7.6" fill="#C4082C" stroke="#1c1014" stroke-width="0.6"/>
<rect x="770.1" y="156.16" width="6.5" height="7.6" fill="#2F2FB4" stroke="#10101c" stroke-width="0.6"/>
<rect x="761.2" y="151.92" width="6.9" height="7.6" fill="#C4082C" stroke="#1c1014" stroke-width="0.6"/>
<rect x="770.1" y="151.92" width="6.5" height="7.6" fill="#2F2FB4" stroke="#10101c" stroke-width="0.6"/>
<rect x="761.2" y="147.68" width="6.9" height="7.6" fill="#2F2FB4" stroke="#1c1014" stroke-width="0.6"/>
<rect x="770.1" y="147.68" width="6.5" height="7.6" fill="#C4082C" stroke="#10101c" stroke-width="0.6"/>
<rect x="761.2" y="143.45" width="6.9" height="7.6" fill="#C4082C" stroke="#1c1014" stroke-width="0.6"/>
<rect x="770.1" y="143.45" width="6.5" height="7.6" fill="#2F2FB4" stroke="#10101c" stroke-width="0.6"/>
<rect x="761.2" y="139.22" width="6.9" height="7.6" fill="#C4082C" stroke="#1c1014" stroke-width="0.6"/>
<rect x="770.1" y="139.22" width="6.5" height="7.6" fill="#2F2FB4" stroke="#10101c" stroke-width="0.6"/>
<rect x="761.2" y="134.98" width="6.9" height="7.6" fill="#C4082C" stroke="#1c1014" stroke-width="0.6"/>
<rect x="770.1" y="134.98" width="6.5" height="7.6" fill="#2F2FB4" stroke="#10101c" stroke-width="0.6"/>
<rect x="761.2" y="130.75" width="6.9" height="7.6" fill="#C4082C" stroke="#1c1014" stroke-width="0.6"/>
<rect x="770.1" y="130.75" width="6.5" height="7.6" fill="#2F2FB4" stroke="#10101c" stroke-width="0.6"/>
<rect x="761.2" y="126.51" width="6.9" height="7.6" fill="#2F2FB4" stroke="#1c1014" stroke-width="0.6"/>
<rect x="770.1" y="126.51" width="6.5" height="7.6" fill="#C4082C" stroke="#10101c" stroke-width="0.6"/>
<rect x="761.2" y="122.28" width="6.9" height="7.6" fill="#C4082C" stroke="#1c1014" stroke-width="0.6"/>
<rect x="770.1" y="122.28" width="6.5" height="7.6" fill="#2F2FB4" stroke="#10101c" stroke-width="0.6"/>
<rect x="761.2" y="118.04" width="6.9" height="7.6" fill="#2F2FB4" stroke="#1c1014" stroke-width="0.6"/>
<rect x="770.1" y="118.04" width="6.5" height="7.6" fill="#C4082C" stroke="#10101c" stroke-width="0.6"/>
<rect x="761.2" y="113.81" width="6.9" height="7.6" fill="#2F2FB4" stroke="#1c1014" stroke-width="0.6"/>
<rect x="770.1" y="113.81" width="6.5" height="7.6" fill="#C4082C" stroke="#10101c" stroke-width="0.6"/>
<rect x="761.2" y="109.57" width="6.9" height="7.6" fill="#C4082C" stroke="#1c1014" stroke-width="0.6"/>
<rect x="770.1" y="109.57" width="6.5" height="7.6" fill="#2F2FB4" stroke="#10101c" stroke-width="0.6"/>
<rect x="761.2" y="105.34" width="6.9" height="7.6" fill="#2F2FB4" stroke="#1c1014" stroke-width="0.6"/>
<rect x="770.1" y="105.34" width="6.5" height="7.6" fill="#C4082C" stroke="#10101c" stroke-width="0.6"/>
<rect x="761.2" y="101.1" width="6.9" height="7.6" fill="#C4082C" stroke="#1c1014" stroke-width="0.6"/>
<rect x="770.1" y="101.1" width="6.5" height="7.6" fill="#2F2FB4" stroke="#10101c" stroke-width="0.6"/>
<rect x="761.2" y="96.87" width="6.9" height="7.6" fill="#C4082C" stroke="#1c1014" stroke-width="0.6"/>
<rect x="770.1" y="96.87" width="6.5" height="7.6" fill="#2F2FB4" stroke="#10101c" stroke-width="0.6"/>
<rect x="761.2" y="92.63" width="6.9" height="7.6" fill="#C4082C" stroke="#1c1014" stroke-width="0.6"/>
<rect x="770.1" y="92.63" width="6.5" height="7.6" fill="#2F2FB4" stroke="#10101c" stroke-width="0.6"/>
<rect x="761.2" y="88.4" width="6.9" height="7.6" fill="#C4082C" stroke="#1c1014" stroke-width="0.6"/>
<rect x="770.1" y="88.4" width="6.5" height="7.6" fill="#2F2FB4" stroke="#10101c" stroke-width="0.6"/>
<rect x="761.2" y="84.16" width="6.9" height="7.6" fill="#C4082C" stroke="#1c1014" stroke-width="0.6"/>
<rect x="770.1" y="84.16" width="6.5" height="7.6" fill="#2F2FB4" stroke="#10101c" stroke-width="0.6"/>
<rect x="761.2" y="79.93" width="6.9" height="7.6" fill="#C4082C" stroke="#1c1014" stroke-width="0.6"/>
<rect x="770.1" y="79.93" width="6.5" height="7.6" fill="#2F2FB4" stroke="#10101c" stroke-width="0.6"/>
<rect x="761.2" y="75.69" width="6.9" height="7.6" fill="#C4082C" stroke="#1c1014" stroke-width="0.6"/>
<rect x="770.1" y="75.69" width="6.5" height="7.6" fill="#2F2FB4" stroke="#10101c" stroke-width="0.6"/>
<rect x="761.2" y="71.46" width="6.9" height="7.6" fill="#C4082C" stroke="#1c1014" stroke-width="0.6"/>
<rect x="770.1" y="71.46" width="6.5" height="7.6" fill="#2F2FB4" stroke="#10101c" stroke-width="0.6"/>
<rect x="761.2" y="67.22" width="6.9" height="7.6" fill="#2F2FB4" stroke="#1c1014" stroke-width="0.6"/>
<rect x="770.1" y="67.22" width="6.5" height="7.6" fill="#C4082C" stroke="#10101c" stroke-width="0.6"/>
<rect x="761.2" y="62.98" width="6.9" height="7.6" fill="#2F2FB4" stroke="#1c1014" stroke-width="0.6"/>
<rect x="770.1" y="62.98" width="6.5" height="7.6" fill="#C4082C" stroke="#10101c" stroke-width="0.6"/>
<rect x="761.2" y="58.75" width="6.9" height="7.6" fill="#C4082C" stroke="#1c1014" stroke-width="0.6"/>
<rect x="770.1" y="58.75" width="6.5" height="7.6" fill="#2F2FB4" stroke="#10101c" stroke-width="0.6"/>
<rect x="761.2" y="54.52" width="6.9" height="7.6" fill="#C4082C" stroke="#1c1014" stroke-width="0.6"/>
<rect x="770.1" y="54.52" width="6.5" height="7.6" fill="#2F2FB4" stroke="#10101c" stroke-width="0.6"/>
<rect x="761.2" y="50.28" width="6.9" height="7.6" fill="#C4082C" stroke="#1c1014" stroke-width="0.6"/>
<rect x="770.1" y="50.28" width="6.5" height="7.6" fill="#2F2FB4" stroke="#10101c" stroke-width="0.6"/>
<rect x="761.2" y="46.05" width="6.9" height="7.6" fill="#2F2FB4" stroke="#1c1014" stroke-width="0.6"/>
<rect x="770.1" y="46.05" width="6.5" height="7.6" fill="#C4082C" stroke="#10101c" stroke-width="0.6"/>
<rect x="761.2" y="41.81" width="6.9" height="7.6" fill="#2F2FB4" stroke="#1c1014" stroke-width="0.6"/>
<rect x="770.1" y="41.81" width="6.5" height="7.6" fill="#C4082C" stroke="#10101c" stroke-width="0.6"/>
<rect x="761.2" y="37.58" width="6.9" height="7.6" fill="#C4082C" stroke="#1c1014" stroke-width="0.6"/>
<rect x="770.1" y="37.58" width="6.5" height="7.6" fill="#2F2FB4" stroke="#10101c" stroke-width="0.6"/>
<rect x="761.2" y="33.34" width="6.9" height="7.6" fill="#C4082C" stroke="#1c1014" stroke-width="0.6"/>
<rect x="770.1" y="33.34" width="6.5" height="7.6" fill="#2F2FB4" stroke="#10101c" stroke-width="0.6"/>
<rect x="761.2" y="29.11" width="6.9" height="7.6" fill="#2F2FB4" stroke="#1c1014" stroke-width="0.6"/>
<rect x="770.1" y="29.11" width="6.5" height="7.6" fill="#C4082C" stroke="#10101c" stroke-width="0.6"/>
<rect x="761.2" y="24.87" width="6.9" height="7.6" fill="#C4082C" stroke="#1c1014" stroke-width="0.6"/>
<rect x="770.1" y="24.87" width="6.5" height="7.6" fill="#2F2FB4" stroke="#10101c" stroke-width="0.6"/>
<rect x="761.2" y="20.63" width="6.9" height="7.6" fill="#C4082C" stroke="#1c1014" stroke-width="0.6"/>
<rect x="770.1" y="20.63" width="6.5" height="7.6" fill="#2F2FB4" stroke="#10101c" stroke-width="0.6"/>
<rect x="761.2" y="16.4" width="6.9" height="7.6" fill="#C4082C" stroke="#1c1014" stroke-width="0.6"/>
<rect x="770.1" y="16.4" width="6.5" height="7.6" fill="#2F2FB4" stroke="#10101c" stroke-width="0.6"/>
<path d="M763.5 14.5 L764.4 14.1 L767.1 16.5" fill="none" stroke="#111" stroke-width="0.8"/>
<path d="M772.4 16.5 L772.4 14.6 Q773.5 12.9 774.6 14.6 L774.6 16.5" fill="none" stroke="#111" stroke-width="0.75"/>
<defs><linearGradient id="ck" x1="0" y1="0" x2="0" y2="1"><stop offset="0" stop-color="#A50026"/><stop offset="0.1" stop-color="#D73027"/><stop offset="0.2" stop-color="#F46D43"/><stop offset="0.3" stop-color="#FDAE61"/><stop offset="0.4" stop-color="#FEE090"/><stop offset="0.5" stop-color="#FFFFBF"/><stop offset="0.6" stop-color="#E0F3F8"/><stop offset="0.7" stop-color="#ABD9E9"/><stop offset="0.8" stop-color="#74ADD1"/><stop offset="0.9" stop-color="#4575B4"/><stop offset="1" stop-color="#313695"/></linearGradient></defs>
<rect x="790.2" y="85.6" width="5.5" height="77.1" fill="url(#ck)"/>
<text x="793.2" y="81.4" font-size="6.6" text-anchor="middle" fill="#222">High</text>
<text x="793.4" y="171.4" font-size="6.6" text-anchor="middle" fill="#222">Low</text>
<text x="526.9" y="7.0" class="serif" font-size="9.6" font-weight="bold" fill="#111">c</text>
</svg></body></html>
